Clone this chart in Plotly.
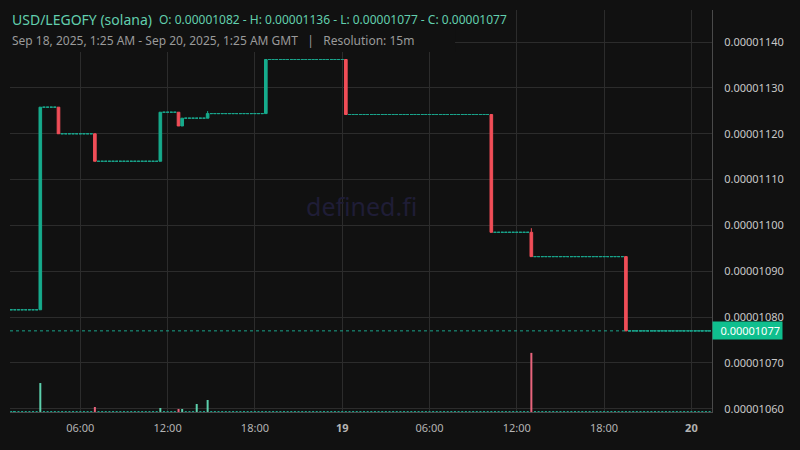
import plotly.graph_objects as go
import pandas as pd

# ---------------- data (prices in units of 1e-8) ----------------
PRICE_UNIT = 1e-8
first_slot = "2025-09-18 01:15"
last_slot = "2025-09-20 01:15"
first_open = 1081.6

move_times = ["2025-09-18 03:15", "2025-09-18 04:30", "2025-09-18 07:00", "2025-09-18 11:30",
              "2025-09-18 12:45", "2025-09-18 13:00", "2025-09-18 14:45", "2025-09-18 18:45",
              "2025-09-19 00:15", "2025-09-19 10:15", "2025-09-19 13:00", "2025-09-19 19:30"]
move_open = [1081.6, 1125.8, 1120.0, 1114.0, 1124.7, 1121.7, 1123.4, 1124.4, 1136.2, 1124.2, 1098.5, 1093.2]
move_high = [1125.8, 1125.8, 1120.0, 1124.7, 1124.7, 1123.4, 1124.95, 1136.2, 1136.2, 1124.2, 1099.4, 1093.2]
move_low = [1081.6, 1120.0, 1114.0, 1114.0, 1121.7, 1121.7, 1123.4, 1124.4, 1124.2, 1098.5, 1093.2, 1077.0]
move_close = [1125.8, 1120.0, 1114.0, 1124.7, 1121.7, 1123.4, 1124.4, 1136.2, 1124.2, 1098.5, 1093.2, 1077.0]

vol_times = ["2025-09-18 03:15", "2025-09-18 07:00", "2025-09-18 11:30", "2025-09-18 12:45",
             "2025-09-18 13:00", "2025-09-18 14:00", "2025-09-18 14:45", "2025-09-19 13:00"]
vol_values = [49.0, 8.5, 6.8, 5.1, 5.1, 13.5, 20.3, 100.0]
vol_up = [True, False, True, False, True, True, True, False]
vol_floor = 1.7  # tiny volume visible under every other candle

y_tick_values = [1060, 1070, 1080, 1090, 1100, 1110, 1120, 1130, 1140]
x_tick_values = ["2025-09-18 06:00", "2025-09-18 12:00", "2025-09-18 18:00", "2025-09-19 00:00",
                 "2025-09-19 06:00", "2025-09-19 12:00", "2025-09-19 18:00", "2025-09-20 00:00"]
x_tick_labels = ["06:00", "12:00", "18:00", "<b>19</b>", "06:00", "12:00", "18:00", "<b>20</b>"]
last_price = 1077.0

# ---------------- colors ----------------
BG = "#111111"
GRID = "#2c2c2c"
GREEN = "#16ab8c"
RED = "#f04e58"
FLAT = "#1aa58c"
VOL_GREEN = "#5ccfac"
VOL_RED = "#e8647c"
TEAL_TXT = "#62cfae"
FONT = "Noto Sans"

# ---------------- build series ----------------
slots = pd.date_range(first_slot, last_slot, freq="15min")
move_idx = {pd.Timestamp(t): i for i, t in enumerate(move_times)}
flat_x, flat_v = [], []
level = first_open
for s in slots:
    if s in move_idx:
        level = move_close[move_idx[s]]
    else:
        flat_x.append(s)
        flat_v.append(level * PRICE_UNIT)

vol_map = {pd.Timestamp(t): (v, u) for t, v, u in zip(vol_times, vol_values, vol_up)}
vx, vy, vc = [], [], []
for s in slots:
    vx.append(s)
    if s in vol_map:
        v, u = vol_map[s]
        vy.append(v)
        vc.append(VOL_GREEN if u else VOL_RED)
    else:
        vy.append(vol_floor)
        vc.append(FLAT)

fig = go.Figure()

fig.add_trace(go.Bar(
    x=vx, y=vy, marker=dict(color=vc, line=dict(width=0)), width=[495000] * len(vx),
    yaxis="y2", hoverinfo="skip", showlegend=False))

fig.add_trace(go.Candlestick(
    x=flat_x, open=flat_v, high=flat_v, low=flat_v, close=flat_v,
    increasing=dict(line=dict(color=FLAT, width=1), fillcolor=FLAT),
    decreasing=dict(line=dict(color=FLAT, width=1), fillcolor=FLAT),
    whiskerwidth=0, showlegend=False, hoverinfo="skip"))

fig.add_trace(go.Candlestick(
    x=pd.to_datetime(move_times),
    open=[v * PRICE_UNIT for v in move_open],
    high=[v * PRICE_UNIT for v in move_high],
    low=[v * PRICE_UNIT for v in move_low],
    close=[v * PRICE_UNIT for v in move_close],
    increasing=dict(line=dict(color=GREEN, width=1), fillcolor=GREEN),
    decreasing=dict(line=dict(color=RED, width=1), fillcolor=RED),
    whiskerwidth=0, showlegend=False, hoverinfo="skip"))

fig.update_layout(
    width=800, height=450,
    margin=dict(l=10, r=88, t=10, b=38),
    paper_bgcolor=BG, plot_bgcolor=BG,
    font=dict(family=FONT, color="#c8c8c8", size=11),
    boxgap=0.15, boxgroupgap=0.15,
    xaxis=dict(
        type="date", range=["2025-09-18 01:10", "2025-09-20 01:25"],
        rangeslider=dict(visible=False),
        tickvals=x_tick_values, ticktext=x_tick_labels,
        showgrid=True, gridcolor=GRID, gridwidth=1,
        showline=True, linecolor="#4a4a4a", linewidth=1,
        ticks="", ticklabelstandoff=6,
        tickfont=dict(size=11, color="#b4b4b4"),
        zeroline=False, fixedrange=True),
    yaxis=dict(
        side="right", range=[1059.3 * PRICE_UNIT, 1147.0 * PRICE_UNIT],
        tickvals=[v * PRICE_UNIT for v in y_tick_values], tickformat=".8f",
        showgrid=True, gridcolor=GRID, gridwidth=1,
        showline=True, linecolor="#4a4a4a", linewidth=1,
        ticks="", ticklabelstandoff=9,
        tickfont=dict(size=11, color="#c8c8c8"),
        zeroline=False, fixedrange=True),
    yaxis2=dict(overlaying="y", range=[0, 680], visible=False, fixedrange=True),
    showlegend=False,
    hovermode=False,
)

# legend background box hiding grid behind header
fig.add_shape(type="rect", xref="paper", yref="paper", x0=0, x1=0.634, y0=0.8955, y1=1.0,
              fillcolor=BG, line=dict(width=0), layer="above")

# last price dotted line
fig.add_shape(type="line", xref="paper", yref="y", x0=0, x1=1,
              y0=last_price * PRICE_UNIT, y1=last_price * PRICE_UNIT,
              line=dict(color=FLAT, width=1, dash="dot"), layer="above")

annotations = [
    dict(text="USD/LEGOFY (solana)", x=0, y=0.9776, xanchor="left", yanchor="middle",
         font=dict(size=14, color=TEAL_TXT)),
    dict(text="O: 0.00001082 - H: 0.00001136 - L: 0.00001077 - C: 0.00001077",
         x=0.2094, y=0.9765, xanchor="left", yanchor="middle",
         font=dict(size=12, color=TEAL_TXT)),
    dict(text="Sep 18, 2025, 1:25 AM - Sep 20, 2025, 1:25 AM GMT   |   Resolution: 15m",
         x=0, y=0.9229, xanchor="left", yanchor="middle",
         font=dict(size=12, color="#9a9a9a")),
    dict(text="defined.fi", x=0.5014, y=0.5124, xanchor="center", yanchor="middle",
         font=dict(size=25, color="#1f1d36")),
]
for a in annotations:
    a.update(xref="paper", yref="paper", showarrow=False)
    fig.add_annotation(**a)

fig.add_annotation(
    text=f"{last_price * PRICE_UNIT:.8f}", xref="paper", yref="y", x=1, y=last_price * PRICE_UNIT,
    xanchor="left", yanchor="middle", showarrow=False, align="right",
    width=65, height=13, borderpad=2, bgcolor="#0fbf8e",
    font=dict(size=11, color="#ffffff"))

fig.write_html("out.html", config={"displayModeBar": False},
               post_script="document.body.style.margin='0';document.body.style.background='#111111';")
